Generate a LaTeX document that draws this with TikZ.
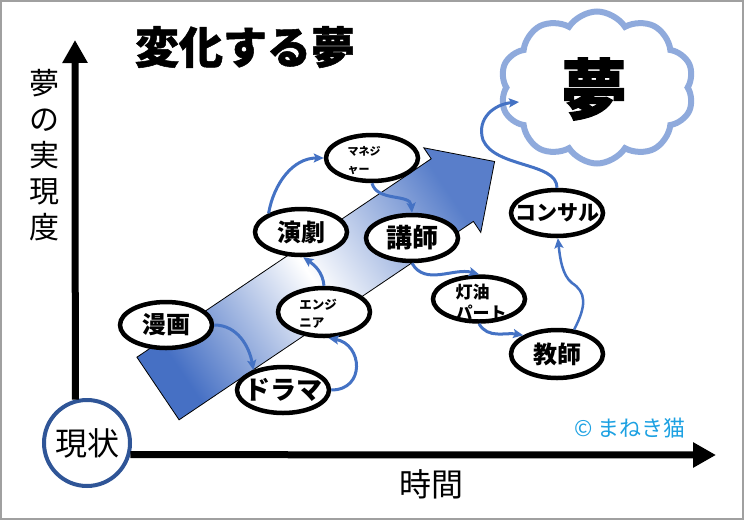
\documentclass[tikz,border=0pt]{standalone}
\usepackage{fontspec}
\setmainfont{Noto Sans CJK JP}
\usetikzlibrary{shapes.geometric,shapes.symbols,arrows.meta}
\definecolor{connblue}{RGB}{68,114,196}
\definecolor{arrowblue}{RGB}{70,112,196}
\definecolor{cloudblue}{RGB}{143,170,220}
\definecolor{nowblue}{RGB}{47,85,151}
\definecolor{copyblue}{RGB}{29,161,226}
\definecolor{framegray}{RGB}{160,160,160}
\newcommand\myfs[1]{\fontsize{#1}{#1}\selectfont}
\tikzset{
  bub/.style={ellipse, draw=black, line width=4.5pt, fill=white, minimum width=92pt, minimum height=46pt, inner sep=0pt},
  bubtext/.style={inner sep=0pt, align=center, font=\bfseries\myfs{#1}},
  bubsmall/.style 2 args={inner sep=0pt, align=left, font=\bfseries\fontsize{#1}{#2}\selectfont},
  conn/.style={draw=connblue, line width=3pt, -{Stealth[length=10pt,width=9pt,inset=2pt]}},
  axisline/.style={draw=black, line width=7pt, -{Triangle[length=23pt,width=24pt]}},
}
\begin{document}
\begin{tikzpicture}[x=1pt,y=-1pt]
\useasboundingbox (0,0) rectangle (744,520);
\draw[framegray, line width=2pt] (1,1) rectangle (743,519);

% big gradient arrow
\path[draw=black, line width=0.8pt, left color=arrowblue, right color=arrowblue!90, middle color=white, shading angle=124]
  (136.9,357.2) -- (431.2,158.8) -- (423.8,147.8) -- (494.6,161.5) -- (480.8,232.4) -- (473.4,221.4) -- (179.1,419.8) -- cycle;

% title and labels
\node (title) at (245,47) {\bfseries\addfontfeatures{FakeBold=1.2}\myfs{44}変化する夢};
\node[align=center, font=\fontsize{30}{36}\selectfont] (ylab) at (44,155) {夢\\の\\実\\現\\度};
\node (xlab) at (431,484) {\myfs{32}時間};
\node (copy) at (630,428) {\color{copyblue}\myfs{22}© まねき猫};

% present state
\node[circle, draw=nowblue, line width=4pt, fill=white, minimum size=86pt, inner sep=0pt] (now) at (87,443) {};
\node (nowt) at (now) {\myfs{32}現状};
\coordinate (ytip) at (75,40);
\coordinate (xtip) at (716,455);
\draw[axisline] (now.105.5) -- (ytip);
\draw[axisline] (now.-15.5) -- (xtip);

% cloud
\node[cloud, cloud puffs=10, cloud puff arc=115, aspect=1.3, draw=cloudblue, line width=6pt, fill=white, minimum width=194pt, minimum height=152pt, inner sep=0pt] (dream) at (597,87.5) {};
\node (dreamt) at (594,89) {\bfseries\addfontfeatures{FakeBold=1.5}\myfs{66}夢};
\coordinate (dreamin) at (519,102);

% bubbles
\node[bub] (manga) at (166,325) {};
\node[bubtext=24] (mangat) at (manga) {漫画};
\node[bub] (drama) at (283,390) {};
\node[bubtext=26] (dramat) at (drama) {ドラマ};
\node[bub, minimum height=48pt] (eng) at (324,312) {};
\node[bubsmall={12.5}{18}] (engt) at (318,314) {エンジ\\ニア};
\node[bub] (engeki) at (301,232) {};
\node[bubtext=24] (engekit) at (engeki) {演劇};
\node[bub] (manager) at (372,158) {};
\node[bubsmall={11}{18}] (managert) at (364,161) {マネジ\\ャー};
\node[bub, minimum height=45pt] (touyu) at (479,299) {};
\node[bubsmall={17}{21}] (touyut) at (481,302) {灯油\\パート};
\node[bub] (koushi) at (412,238) {};
\node[bubtext=26] (koushit) at (koushi) {講師};
\node[bub, minimum height=48pt] (kyoushi) at (557,354) {};
\node[bubtext=24] (kyoushit) at (kyoushi) {教師};
\node[bub] (consul) at (557,213) {};
\node[bubtext=21] (consult) at (consul) {コンサル};

% connectors
\draw[conn] (manga.east) to[out=0,in=100] (drama.146);
\draw[conn] (drama.east) to[out=0,in=-10,looseness=1.7] (eng.-80);
\draw[conn] (eng.north) to[out=95,in=-35] (engeki.-85);
\draw[conn] (engeki.150) to[out=80,in=180] (manager.west);
\draw[conn] (manager.south) to[out=-75,in=95] (koushi.north);
\draw[conn] (koushi.south) to[out=-60,in=165] (touyu.north);
\draw[conn] (touyu.south) to[out=-60,in=170] (kyoushi.151);
\draw[conn, line width=2.5pt] (kyoushi.55) .. controls (587,305) and (586,292) .. (572,283) .. controls (562,275) and (560,258) .. (consul.-88);
\draw[conn] (consul.north) .. controls (557,162) and (495,168) .. (483,140) .. controls (476,118) and (495,104) .. (dreamin);
\end{tikzpicture}
\end{document}
